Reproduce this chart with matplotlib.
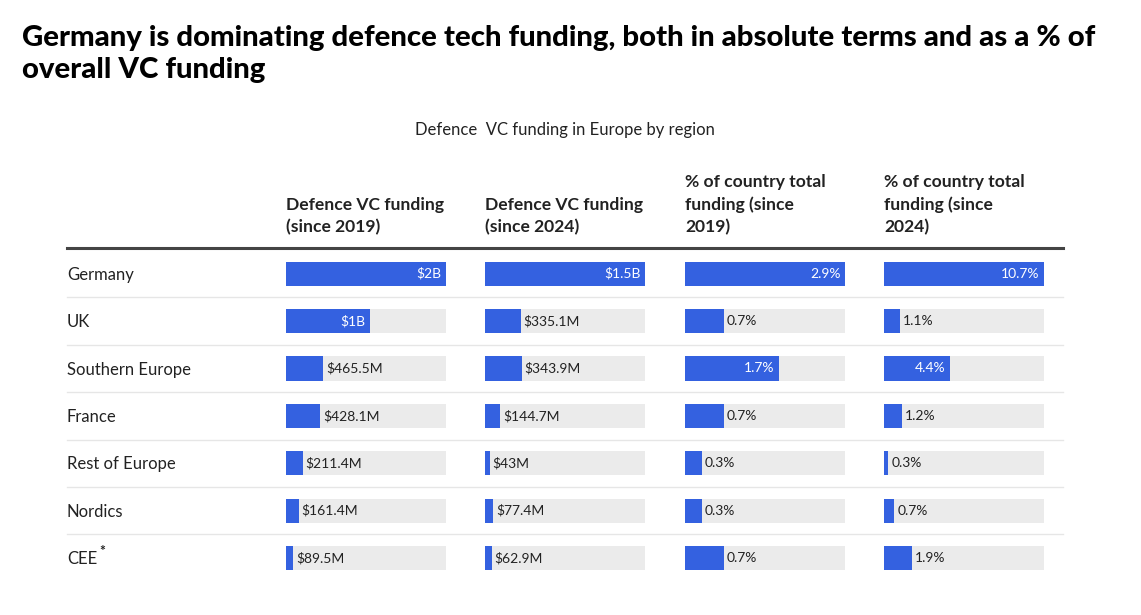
import matplotlib
matplotlib.use("Agg")
import matplotlib.pyplot as plt
from matplotlib.lines import Line2D

# ---------------- data ----------------
regions = ["Germany", "UK", "Southern Europe", "France", "Rest of Europe", "Nordics", "CEE"]
funding_2019 = [2000, 1050, 465.5, 428.1, 211.4, 161.4, 89.5]          # $M
funding_2019_labels = ["$2B", "$1B", "$465.5M", "$428.1M", "$211.4M", "$161.4M", "$89.5M"]
funding_2024 = [1500, 335.1, 343.9, 144.7, 43, 77.4, 62.9]             # $M
funding_2024_labels = ["$1.5B", "$335.1M", "$343.9M", "$144.7M", "$43M", "$77.4M", "$62.9M"]
share_2019 = [2.9, 0.7, 1.7, 0.7, 0.3, 0.3, 0.7]                       # %
share_2024 = [10.7, 1.1, 4.4, 1.2, 0.3, 0.7, 1.9]                      # %
share_2019_labels = [f"{v}%" for v in share_2019]
share_2024_labels = [f"{v}%" for v in share_2024]
headers = ["Defence VC funding\n(since 2019)",
           "Defence VC funding\n(since 2024)",
           "% of country total\nfunding (since\n2019)",
           "% of country total\nfunding (since\n2024)"]
title = "Germany is dominating defence tech funding, both in absolute terms and as a % of\noverall VC funding"
subtitle = "Defence  VC funding in Europe by region"

# ---------------- style ----------------
W, H = 1141, 615
FONT = ["Lato", "DejaVu Sans"]
BLUE = "#3461E0"
GREY_BG = "#EBEBEB"
TXT = "#222222"

fig = plt.figure(figsize=(W / 100, H / 100), dpi=100)
fig.patch.set_facecolor("white")

def fx(px):
    return px / W

def fy(py):
    return 1 - py / H

# Title & subtitle
fig.text(fx(22), fy(25), title, ha="left", va="top", fontsize=21.2, fontweight="black",
         family=FONT, color="black", linespacing=1.28)
fig.text(fx(565), fy(130), subtitle, ha="center", va="center", fontsize=12,
         family=FONT, color=TXT)

# table geometry
top_px = 250
row_h = 47.4
n = len(regions)
bottom_px = top_px + row_h * n
col_x = [286, 485, 685, 884]
col_w = 160

columns = [
    (funding_2019, funding_2019_labels),
    (funding_2024, funding_2024_labels),
    (share_2019, share_2019_labels),
    (share_2024, share_2024_labels),
]

for ci, ((vals, labels), hdr) in enumerate(zip(columns, headers)):
    ax = fig.add_axes([fx(col_x[ci]), fy(bottom_px), fx(col_w), (bottom_px - top_px) / H])
    vmax = max(vals)
    ypos = list(range(n))
    ax.barh(ypos, [vmax] * n, height=0.51, color=GREY_BG, zorder=1)
    ax.barh(ypos, vals, height=0.51, color=BLUE, zorder=2)
    ax.set_xlim(0, vmax)
    ax.set_ylim(n - 0.5, -0.5)
    ax.axis("off")
    for i, (v, lab) in enumerate(zip(vals, labels)):
        if v / vmax > 0.3:
            ax.annotate(lab, (v, i), xytext=(-3, 0), textcoords="offset points",
                        ha="right", va="center", color="white", fontsize=10, family=FONT, zorder=3)
        else:
            ax.annotate(lab, (v, i), xytext=(2, 0), textcoords="offset points",
                        ha="left", va="center", color=TXT, fontsize=10, family=FONT, zorder=3)
    # header
    fig.text(fx(col_x[ci]), fy(235), hdr, ha="left", va="bottom", fontsize=12.6,
             fontweight="bold", family=FONT, color=TXT, linespacing=1.45)

# row labels
for i, r in enumerate(regions):
    yc = top_px + row_h * (i + 0.5) + 1
    fig.text(fx(67), fy(yc), r, ha="left", va="center", fontsize=12, family=FONT, color=TXT)
# asterisk for CEE
yc = top_px + row_h * (n - 0.5)
fig.text(fx(99), fy(yc - 7), "*", ha="left", va="center", fontsize=10, fontweight="bold",
         family=FONT, color=TXT)

# header rule and separators
fig.add_artist(Line2D([fx(67), fx(1063)], [fy(248), fy(248)], color="#444444", lw=2.2))
for i in range(1, n):
    y = top_px + row_h * i
    fig.add_artist(Line2D([fx(67), fx(1063)], [fy(y), fy(y)], color="#E6E6E6", lw=1))

fig.savefig("out.png", dpi=100, facecolor="white")
